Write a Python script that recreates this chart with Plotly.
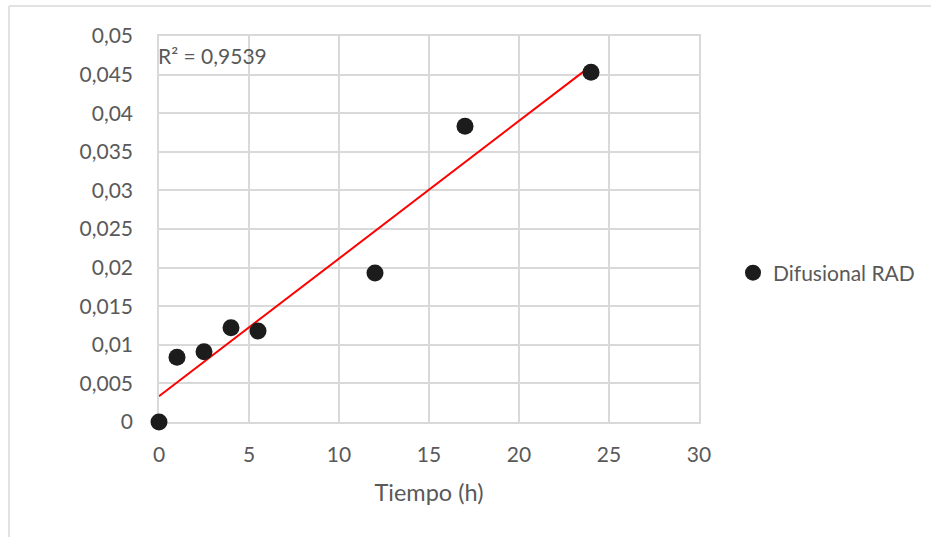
import numpy as np
import plotly.graph_objects as go

tiempo = [0, 1, 2.5, 4, 5.5, 12, 17, 24]
difusional = [0.0, 0.0084, 0.0091, 0.0122, 0.0118, 0.0193, 0.0383, 0.0453]
series_name = "Difusional RAD"
r2_label = "R² = 0,9539"
x_title = "Tiempo (h)"

slope, intercept = np.polyfit(tiempo, difusional, 1)
trend_x = [min(tiempo), max(tiempo)]
trend_y = [slope * v + intercept for v in trend_x]

FONT = "Lato, 'Open Sans', sans-serif"
GREY = "#595959"
GRID = "#d9d9d9"

fig = go.Figure()
fig.add_trace(go.Scatter(
    x=trend_x, y=trend_y, mode="lines", cliponaxis=False,
    line=dict(color="#ff0000", width=2), showlegend=False, hoverinfo="skip"))
fig.add_trace(go.Scatter(
    x=tiempo, y=difusional, mode="markers", name=series_name, cliponaxis=False,
    marker=dict(color="#1c1c1c", size=17)))

W, H = 931, 537
L, T = 159, 36
pw, ph = 540, 386
R, B = W - L - pw, H - T - ph

fig.update_layout(
    width=W, height=H,
    margin=dict(l=L, r=R, t=T, b=B, autoexpand=False),
    paper_bgcolor="white", plot_bgcolor="white",
    separators=",.",
    font=dict(family=FONT, color=GREY, size=21),
    xaxis=dict(range=[0, 30], dtick=5, showgrid=True, gridcolor=GRID, gridwidth=1.5,
               zeroline=False, showline=True, linecolor=GRID, linewidth=1.5, mirror=True,
               layer="below traces",
               ticks="outside", ticklen=13, tickcolor="rgba(0,0,0,0)",
               tickfont=dict(size=21, color=GREY),
               title=dict(text=x_title, font=dict(size=23.5, color=GREY), standoff=20)),
    yaxis=dict(range=[0, 0.05], dtick=0.005, tickformat=".3~f", showgrid=True,
               gridcolor=GRID, gridwidth=1.5, zeroline=False,
               showline=True, linecolor=GRID, linewidth=1.5, mirror=True,
               layer="below traces",
               tickfont=dict(size=21, color=GREY),
               ticks="outside", ticklen=20, tickcolor="rgba(0,0,0,0)"),
    legend=dict(xref="container", yref="container", x=733 / W, y=1 - 273 / H,
                xanchor="left", yanchor="middle",
                font=dict(size=21, color=GREY), itemsizing="trace",
                bgcolor="rgba(0,0,0,0)"),
    annotations=[dict(text=r2_label, x=0, y=0.0475, xref="x", yref="y",
                      xanchor="left", yanchor="middle", showarrow=False, xshift=-3,
                      font=dict(size=21, color=GREY))],
    shapes=[
        dict(type="line", xref="paper", yref="paper",
             x0=(9 - L) / pw, x1=(W + 5 - L) / pw,
             y0=1 + (T - 6) / ph, y1=1 + (T - 6) / ph,
             line=dict(color=GRID, width=1.5)),
        dict(type="line", xref="paper", yref="paper",
             x0=(9 - L) / pw, x1=(9 - L) / pw,
             y0=1 + (T - 6) / ph, y1=-(H + 5 - T - ph) / ph,
             line=dict(color=GRID, width=1.5)),
    ],
)

fig.write_html("out.html", config={"displayModeBar": False},
               post_script="document.body.style.margin='0';document.body.style.overflow='hidden';")
